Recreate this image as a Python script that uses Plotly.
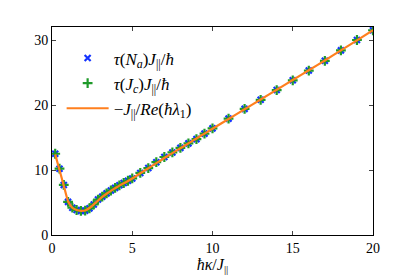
import plotly.graph_objects as go

# data
kappa = [0.2, 0.467, 0.733, 1.0, 1.267, 1.533, 1.8, 2.067, 2.333, 2.6, 2.867, 3.133,
         3.4, 3.667, 3.933, 4.2, 4.467, 4.733, 5.0, 5.5, 6.0, 6.5, 7.0, 7.5, 8.0,
         8.5, 9.0, 9.5, 10.0, 11.0, 12.0, 13.0, 14.0, 15.0, 16.0, 17.0, 18.0, 19.0, 20.0]
tau_Na = [12.5, 10.2, 7.7, 5.1, 4.2, 3.85, 3.7, 3.75, 4.1, 4.7, 5.45, 5.9,
          6.4, 6.85, 7.25, 7.65, 8.0, 8.35, 8.7, 9.55, 10.3, 11.2, 12.0, 12.7, 13.4,
          14.1, 14.75, 15.6, 16.4, 17.9, 19.4, 20.8, 22.3, 23.8, 25.3, 26.8, 28.4, 30.0, 31.5]
tau_Jc = list(tau_Na)

line_x = [0.2, 0.467, 0.733, 1.0, 1.267, 1.533, 1.8, 2.067, 2.333, 2.6, 2.867, 3.133,
          3.4, 3.667, 3.933, 4.2, 4.467, 4.733, 5.0, 5.5, 6.0, 6.5, 7.0, 7.5, 8.0,
          8.5, 9.0, 9.5, 10.0, 11.0, 12.0, 13.0, 14.0, 15.0, 16.0, 17.0, 18.0, 19.0, 20.0]
line_y = [12.4, 10.0, 7.6, 5.2, 4.2, 3.85, 3.72, 3.78, 4.15, 4.7, 5.3, 5.85,
          6.35, 6.8, 7.2, 7.6, 7.95, 8.3, 8.7, 9.5, 10.25, 11.05, 11.85, 12.6, 13.35,
          14.1, 14.85, 15.6, 16.35, 17.85, 19.35, 20.85, 22.35, 23.85, 25.35, 26.85, 28.4, 29.95, 31.5]

x_ticks = [0, 5, 10, 15, 20]
y_ticks = [0, 10, 20, 30]

serif = "Liberation Serif"

fig = go.Figure()
fig.add_trace(go.Scatter(
    x=kappa, y=tau_Na, mode="markers",
    name="<i>τ</i>(<i>N<sub>a</sub></i>)<i>J</i><sub>||</sub>/<i>ħ</i>",
    marker=dict(symbol="x-thin", size=6, color="#1433ff",
                line=dict(width=2.2, color="#1433ff")),
    legendgroup="a"))
fig.add_trace(go.Scatter(
    x=kappa, y=tau_Jc, mode="markers",
    name="<i>τ</i>(<i>J<sub>c</sub></i>)<i>J</i><sub>||</sub>/<i>ħ</i>",
    marker=dict(symbol="cross-thin", size=7, color="#1f9a2a",
                line=dict(width=2.2, color="#1f9a2a")),
    legendgroup="b"))
fig.add_trace(go.Scatter(
    x=line_x, y=line_y, mode="lines",
    name="−<i>J</i><sub>||</sub>/<i>Re</i>(<i>ħλ</i><sub>1</sub>)",
    line=dict(color="#ff7f1e", width=2.2, shape="spline", smoothing=0.6),
    legendgroup="c"))

fig.update_layout(
    width=415, height=277,
    margin=dict(l=52, r=42, t=27, b=42),
    paper_bgcolor="white", plot_bgcolor="white",
    font=dict(family=serif, size=14, color="black"),
    showlegend=True,
    legend=dict(x=0.03, y=0.935, xanchor="left", yanchor="top",
                bgcolor="rgba(255,255,255,0)", borderwidth=0,
                font=dict(family=serif, size=17),
                itemwidth=42,
                tracegroupgap=0, traceorder="grouped"),
    xaxis=dict(range=[0, 20], tickvals=x_ticks, ticks="inside", ticklen=4,
               showline=True, linecolor="black", linewidth=1, mirror="ticks",
               showgrid=False, zeroline=False, automargin=False,
               title=dict(text="<i>ħκ</i>/<i>J</i><sub>||</sub>", font=dict(size=16), standoff=0)),
    yaxis=dict(range=[0, 32], tickvals=y_ticks, ticks="inside", ticklen=4,
               showline=True, linecolor="black", linewidth=1, mirror="ticks",
               showgrid=False, zeroline=False, automargin=False),
)

fig.write_html("out.html",
               config={"displayModeBar": False},
               post_script="document.body.style.margin='0';document.body.style.padding='0';")
